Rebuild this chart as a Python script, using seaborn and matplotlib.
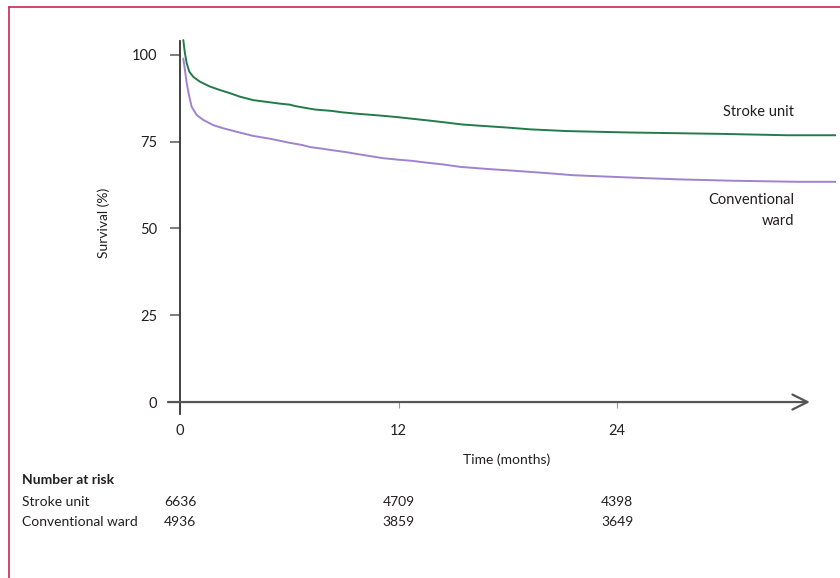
import matplotlib
matplotlib.use("Agg")
import matplotlib.pyplot as plt
import matplotlib.transforms as mtransforms
from matplotlib.lines import Line2D
import numpy as np
import pandas as pd
import seaborn as sns

# Kaplan-Meier survival estimates (months, % surviving)
stroke_months = [0.18, 0.27, 0.37, 0.51, 0.73, 1.10, 1.65, 2.20, 2.75, 3.29, 4.03,
                 4.76, 5.49, 6.04, 6.32, 6.86, 7.41, 8.35, 8.90, 9.72, 11.15, 11.97,
                 13.01, 13.73, 14.55, 15.49, 16.58, 18.01, 19.22, 21.25, 24.60,
                 29.65, 33.33, 36.02]
stroke_surv = [104.2, 100.4, 97.5, 95.1, 93.6, 92.2, 90.8, 89.8, 88.9, 87.9, 86.9,
               86.4, 85.9, 85.6, 85.2, 84.7, 84.2, 83.8, 83.4, 83.0, 82.4, 82.0,
               81.4, 81.0, 80.5, 79.9, 79.5, 79.0, 78.5, 78.0, 77.6,
               77.2, 76.8, 76.8]

ward_months = [0.18, 0.27, 0.37, 0.51, 0.64, 0.92, 1.28, 1.83, 2.38, 3.11, 4.03,
               4.94, 5.86, 6.04, 6.70, 7.14, 7.85, 8.62, 9.17, 9.72, 10.43, 11.15,
               11.92, 12.80, 13.56, 14.44, 15.38, 16.86, 18.29, 20.15, 21.58,
               24.33, 27.35, 30.40, 33.90, 36.02]
ward_surv = [98.9, 95.6, 91.7, 87.9, 85.0, 82.6, 81.2, 79.7, 78.8, 77.8, 76.6,
             75.8, 74.8, 74.6, 74.0, 73.4, 72.9, 72.3, 71.9, 71.4, 70.8, 70.2,
             69.8, 69.4, 68.9, 68.4, 67.7, 67.1, 66.6, 65.9, 65.3,
             64.7, 64.1, 63.7, 63.4, 63.4]

groups = ["Stroke unit", "Conventional ward"]
risk_times = [0, 12, 24]
risk_stroke = [6636, 4709, 4398]
risk_ward = [4936, 3859, 3649]
y_ticks = [0, 25, 50, 75, 100]
x_ticks = [0, 12, 24]

df = pd.concat([
    pd.DataFrame({"month": stroke_months, "survival": stroke_surv, "group": groups[0]}),
    pd.DataFrame({"month": ward_months, "survival": ward_surv, "group": groups[1]}),
], ignore_index=True)

sns.set_theme(style="white")
plt.rcParams["font.family"] = ["Lato", "DejaVu Sans"]
text_color = "#231f20"

fig = plt.figure(figsize=(8.4, 5.78), dpi=100)
ax = fig.add_axes([0.2, 0.2804, 0.7952, 0.6611])

palette = {groups[0]: "#237a4b", groups[1]: "#9f83cf"}
sns.lineplot(data=df, x="month", y="survival", hue="group", palette=palette,
             estimator=None, linewidth=1.4, legend=False, ax=ax)

ax.set_xlim(-0.66, 36.02)
ax.set_ylim(-4, 106)
ax.set_xlabel("")
ax.set_ylabel("")

# Axis lines
for side in ["top", "right"]:
    ax.spines[side].set_visible(False)
ax.spines["left"].set_position(("data", 0))
ax.spines["left"].set_bounds(-3.5, 104)
ax.spines["left"].set_color("#333333")
ax.spines["left"].set_linewidth(1.3)
ax.spines["bottom"].set_position(("data", 0))
ax.spines["bottom"].set_color("none")

ax.annotate("", xy=(0.961, 0), xytext=(0.0, 0),
            xycoords=("axes fraction", "data"), textcoords=("axes fraction", "data"),
            arrowprops=dict(arrowstyle="->,head_length=0.9,head_width=0.45",
                            lw=1.6, color="#555555", shrinkA=0, shrinkB=0))

ax.set_yticks(y_ticks)
ax.set_yticklabels([str(v) for v in y_ticks])
ax.set_xticks(x_ticks)
ax.set_xticklabels([str(v) for v in x_ticks])
ax.tick_params(axis="y", direction="out", length=7.5, width=1.2, color="#666666",
               pad=9, labelsize=10.5, labelcolor=text_color, left=True)
ax.tick_params(axis="x", direction="out", length=4, width=0.8, color="#999999",
               pad=12, labelsize=10.5, labelcolor=text_color, bottom=True)

# Axis titles
fig.text(104 / 840, 1 - 223 / 578, "Survival (%)", rotation=90, ha="center",
         va="center", fontsize=10, color=text_color)
fig.text(507 / 840, 1 - 460 / 578, "Time (months)", ha="center", va="center",
         fontsize=10, color=text_color)

# Curve labels
fig.text(794 / 840, 1 - 112 / 578, groups[0], ha="right", va="center",
         fontsize=10.5, color=text_color)
fig.text(794 / 840, 1 - 200 / 578, "Conventional", ha="right", va="center",
         fontsize=10.5, color=text_color)
fig.text(794 / 840, 1 - 221 / 578, "ward", ha="right", va="center",
         fontsize=10.5, color=text_color)

# Number at risk table
fig.text(22 / 840, 1 - 480 / 578, "Number at risk", ha="left", va="center",
         fontsize=10, fontweight="bold", color=text_color)
fig.text(22 / 840, 1 - 502 / 578, groups[0], ha="left", va="center",
         fontsize=10, color=text_color)
fig.text(22 / 840, 1 - 522 / 578, groups[1], ha="left", va="center",
         fontsize=10, color=text_color)
blend = mtransforms.blended_transform_factory(ax.transData, fig.transFigure)
for t, a, b in zip(risk_times, risk_stroke, risk_ward):
    ax.text(t, 1 - 502 / 578, str(a), transform=blend, ha="center", va="center",
            fontsize=10, color=text_color)
    ax.text(t, 1 - 522 / 578, str(b), transform=blend, ha="center", va="center",
            fontsize=10, color=text_color)

# Frame around the figure panel
frame_color = "#c8284f"
fig.add_artist(Line2D([9 / 840, 1.0], [1 - 6.5 / 578, 1 - 6.5 / 578],
                      transform=fig.transFigure, color=frame_color, lw=1.2))
fig.add_artist(Line2D([9 / 840, 9 / 840], [0.0, 1 - 6.5 / 578],
                      transform=fig.transFigure, color=frame_color, lw=1.2))

fig.savefig("out.png", dpi=100)
